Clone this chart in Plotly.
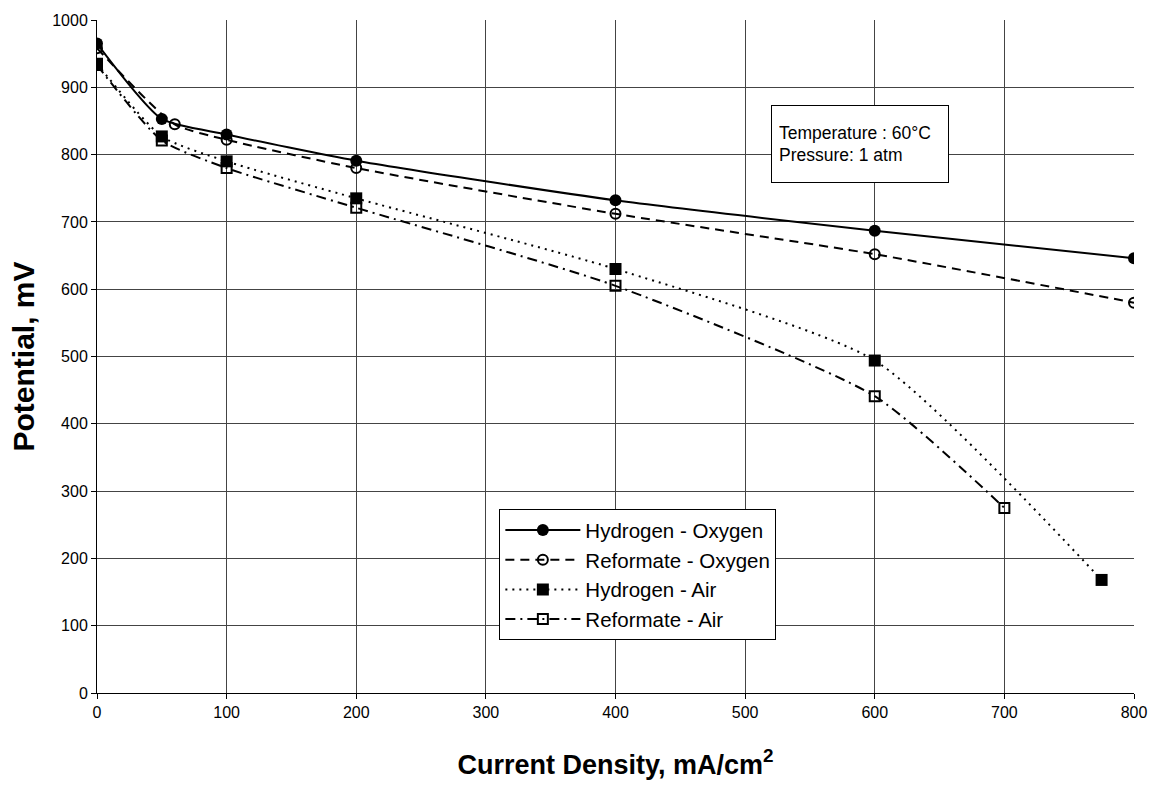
import plotly.graph_objects as go

# Data
ho_x = [0, 50, 100, 200, 400, 600, 800]
ho_y = [965, 853, 830, 791, 732, 687, 646]

ro_x = [0, 60, 100, 200, 400, 600, 800]
ro_y = [958, 845, 822, 780, 712, 652, 580]

ha_x = [0, 50, 100, 200, 400, 600, 775]
ha_y = [935, 827, 790, 735, 630, 494, 168]

ra_x = [0, 50, 100, 200, 400, 600, 700]
ra_y = [933, 821, 780, 721, 605, 441, 275]

x_ticks = [0, 100, 200, 300, 400, 500, 600, 700, 800]
y_ticks = [0, 100, 200, 300, 400, 500, 600, 700, 800, 900, 1000]

FONT = "Liberation Sans, Arial, sans-serif"

fig = go.Figure()

fig.add_trace(go.Scatter(
    x=ho_x, y=ho_y, name="Hydrogen - Oxygen", mode="lines+markers",
    line=dict(color="black", width=2, shape="spline", smoothing=0.6),
    marker=dict(symbol="circle", size=12, color="black"),
))
fig.add_trace(go.Scatter(
    x=ro_x, y=ro_y, name="Reformate - Oxygen", mode="lines+markers",
    line=dict(color="black", width=2, dash="9px,6px", shape="spline", smoothing=0.6),
    marker=dict(symbol="circle-open", size=10, color="black", line=dict(width=2)),
))
fig.add_trace(go.Scatter(
    x=ha_x, y=ha_y, name="Hydrogen - Air", mode="lines+markers",
    line=dict(color="black", width=2, dash="2px,5px", shape="spline", smoothing=0.6),
    marker=dict(symbol="square", size=12, color="black"),
))
fig.add_trace(go.Scatter(
    x=ra_x, y=ra_y, name="Reformate - Air", mode="lines+markers",
    line=dict(color="black", width=2, dash="10px,5px,2px,5px", shape="spline", smoothing=0.6),
    marker=dict(symbol="square-open", size=10, color="black", line=dict(width=2)),
))

fig.add_annotation(
    x=0.65, y=0.873, xref="paper", yref="paper", xanchor="left", yanchor="top",
    text="Temperature : 60°C<br>Pressure: 1 atm", showarrow=False, align="left",
    width=162, height=62, valign="middle",
    font=dict(family=FONT, size=17.5, color="black"),
    bordercolor="black", borderwidth=1, borderpad=7, bgcolor="white",
)

axis_common = dict(
    showline=True, linecolor="black", linewidth=1, mirror=False,
    showgrid=True, gridcolor="#444444", gridwidth=1,
    ticks="outside", ticklen=5, tickcolor="black",
    tickfont=dict(family=FONT, size=16, color="black"),
    zeroline=False,
)

fig.update_layout(
    width=1159, height=786,
    margin=dict(l=97, r=21, t=17, b=91),
    paper_bgcolor="white", plot_bgcolor="white",
    font=dict(family=FONT, color="black"),
    showlegend=True,
    legend=dict(
        x=0.388, y=0.273, xanchor="left", yanchor="top",
        bgcolor="white", bordercolor="black", borderwidth=1,
        font=dict(family=FONT, size=20.5, color="black"),
        itemwidth=75, tracegroupgap=2,
    ),
    xaxis=dict(
        range=[0, 800], tickvals=x_ticks,
        title=dict(text="<b>Current Density, mA/cm<sup>2</sup></b>",
                   font=dict(family=FONT, size=27, color="black"), standoff=34),
        **axis_common,
    ),
    yaxis=dict(
        range=[0, 1000], tickvals=y_ticks,
        title=dict(text="<b>Potential, mV</b>",
                   font=dict(family=FONT, size=30, color="black"), standoff=8),
        **axis_common,
    ),
)

fig.write_html("out.html")
